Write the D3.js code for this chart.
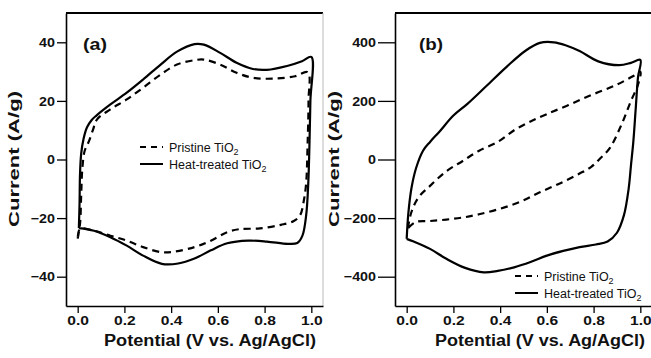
<!DOCTYPE html>
<html><head><meta charset="utf-8">
<script src="https://cdn.jsdelivr.net/npm/d3@7"></script>
<style>
html,body{margin:0;padding:0;background:#fff;}
svg{display:block;}
text{font-family:"Liberation Sans",Arial,sans-serif;fill:#111;}
</style></head>
<body><svg id="c" width="651" height="358"></svg>
<script>
// ---- data ----
const xTicks = [0, 0.2, 0.4, 0.6, 0.8, 1.0];
const yTicksA = [-40, -20, 0, 20, 40];
const yTicksB = [-400, -200, 0, 200, 400];
const seriesNames = ["Pristine TiO", "Heat-treated TiO"];
const panelLabels = ["(a)", "(b)"];
const xTitle = "Potential (V vs. Ag/AgCl)";
const yTitle = "Current (A/g)";

// panel (a) pristine (dashed) — [potential V, current A/g]
const aPristine = [[0.0,-27],[0.01,-22],[0.015,-12],[0.02,-3],[0.03,3],[0.047,6],[0.065,10],[0.083,13.7],[0.14,17.1],[0.21,20.5],[0.28,24.5],[0.355,29],[0.425,32.4],[0.5,33.9],[0.54,34.1],[0.61,32.4],[0.68,29.6],[0.75,27.9],[0.84,27.6],[0.93,28.4],[0.985,29.8],[0.988,20],[0.984,5],[0.978,-8],[0.968,-14],[0.952,-19],[0.925,-21],[0.87,-22.3],[0.78,-23.5],[0.69,-23.8],[0.64,-24.8],[0.57,-27.7],[0.5,-29.9],[0.4,-31.6],[0.355,-31.6],[0.28,-29.9],[0.21,-27.7],[0.14,-26],[0.07,-24.3],[0.01,-23.7],[0.0,-27]];
// panel (a) heat-treated (solid)
const aHeat = [[0.005,-23.4],[0.008,-15],[0.01,-5],[0.015,2],[0.025,7],[0.04,11],[0.06,13.5],[0.08,15],[0.14,18.8],[0.21,22.8],[0.28,27.3],[0.355,32.4],[0.425,36.8],[0.5,39.4],[0.54,39.2],[0.61,36.4],[0.68,33],[0.75,30.9],[0.81,30.6],[0.9,32],[0.96,33.5],[1.0,35],[0.996,20],[0.992,5],[0.987,-8],[0.978,-19],[0.962,-26],[0.94,-28.5],[0.9,-28.8],[0.81,-28],[0.73,-27.7],[0.64,-28.6],[0.57,-31],[0.5,-33.8],[0.43,-35.5],[0.36,-35.6],[0.28,-32.8],[0.21,-29.4],[0.14,-26.5],[0.07,-24.3],[0.005,-23.4]];
// panel (b) pristine (dashed)
const bPristine = [[0.005,-235],[0.02,-180],[0.05,-130],[0.1,-90],[0.17,-40],[0.24,-5],[0.31,30],[0.39,60],[0.46,100],[0.53,130],[0.6,155],[0.69,185],[0.79,220],[0.89,252],[0.97,285],[1.0,300],[0.99,255],[0.96,200],[0.92,120],[0.87,40],[0.83,5],[0.79,-25],[0.74,-48],[0.66,-80],[0.57,-112],[0.49,-143],[0.4,-168],[0.31,-187],[0.24,-198],[0.17,-205],[0.1,-210],[0.04,-213],[0.005,-235]];
// panel (b) heat-treated (solid)
const bHeat = [[0.0,-271],[0.007,-185],[0.02,-100],[0.04,-30],[0.07,30],[0.1,60],[0.14,95],[0.2,150],[0.26,190],[0.34,250],[0.43,318],[0.51,372],[0.57,398],[0.63,400],[0.68,390],[0.74,370],[0.82,335],[0.91,322],[0.96,330],[1.0,340],[0.99,280],[0.98,170],[0.97,60],[0.96,-20],[0.95,-100],[0.93,-190],[0.9,-250],[0.86,-280],[0.81,-290],[0.74,-299],[0.67,-312],[0.6,-328],[0.53,-350],[0.46,-368],[0.39,-380],[0.33,-385],[0.25,-370],[0.17,-339],[0.1,-305],[0.03,-280],[0.0,-271]];

const svg = d3.select("#c");

function stretch(sel, k){
  sel.each(function(){
    const w = this.getComputedTextLength();
    d3.select(this).attr("textLength", w*k).attr("lengthAdjust","spacingAndGlyphs");
  });
}

function panel(opt){
  const g = svg.append("g");
  const x = d3.scaleLinear().domain([-0.05,1.05]).range([opt.x0, opt.x1]);
  const y = d3.scaleLinear().domain(opt.yDom).range([306, 13]);
  // frame
  g.append("line").attr("x1",opt.x0).attr("x2",opt.x1).attr("y1",13).attr("y2",13).attr("stroke","#000").attr("stroke-width",2.2);
  g.append("line").attr("x1",opt.x1).attr("x2",opt.x1).attr("y1",13).attr("y2",306).attr("stroke","#bbb").attr("stroke-width",1);
  // axes
  const ya = g.append("g").attr("transform",`translate(${opt.x0},0)`)
    .call(d3.axisLeft(y).tickValues(opt.yTicks).tickSize(opt.ytick).tickSizeOuter(0).tickPadding(2).tickFormat(d3.format("d")));
  const xa = g.append("g").attr("transform",`translate(0,306)`)
    .call(d3.axisBottom(x).tickValues(xTicks).tickSize(7).tickSizeOuter(0).tickPadding(3).tickFormat(d3.format(".1f")));
  [[ya,1.1],[xa,1.2]].forEach(([a,k])=>{
    a.select(".domain").attr("stroke","#000").attr("stroke-width",1.6);
    a.selectAll(".tick line").attr("stroke","#000").attr("stroke-width",1.3);
    a.selectAll(".tick text").attr("font-size",13).attr("font-weight","bold").attr("fill","#111")
      .attr("font-family",'"Liberation Sans",Arial,sans-serif');
    stretch(a.selectAll(".tick text"), k);
  });
  // titles
  g.append("text").attr("x",opt.xtc).attr("y",346).attr("text-anchor","middle")
    .attr("font-size",16).attr("font-weight","bold")
    .attr("textLength",opt.xtl).attr("lengthAdjust","spacingAndGlyphs").text(xTitle);
  g.append("text").attr("transform",`translate(${opt.yt},159) rotate(-90)`).attr("text-anchor","middle")
    .attr("font-size",15).attr("font-weight","bold")
    .attr("textLength",136).attr("lengthAdjust","spacingAndGlyphs").text(yTitle);
  g.append("text").attr("x",opt.lx).attr("y",50).attr("font-size",17).attr("font-weight","bold")
    .attr("textLength",24).attr("lengthAdjust","spacingAndGlyphs").text(opt.label);
  // curves
  const line = d3.line().x(d=>x(d[0])).y(d=>y(d[1])).curve(d3.curveCatmullRom.alpha(0.5));
  g.append("path").datum(opt.pristine).attr("d",line).attr("fill","none").attr("stroke","#000")
    .attr("stroke-width",2.2).attr("stroke-dasharray","7,5");
  g.append("path").datum(opt.heat).attr("d",line).attr("fill","none").attr("stroke","#000")
    .attr("stroke-width",2.2);
  // legend
  const L = g.append("g");
  seriesNames.forEach((nm,i)=>{
    const yy = opt.legY + i*17;
    L.append("line").attr("x1",opt.legX).attr("x2",opt.legX+23).attr("y1",yy).attr("y2",yy)
      .attr("stroke","#000").attr("stroke-width",2).attr("stroke-dasharray", i===0 ? "6,5" : null);
    const t = L.append("text").attr("x",opt.legX+29).attr("y",yy+4.5).attr("font-size",12.5);
    t.append("tspan").text(nm);
    t.append("tspan").attr("dy",3).attr("font-size",9).text("2");
  });
}

panel({x0:66, x1:323, yDom:[-50,50], yTicks:yTicksA, ytick:9, yt:19, label:panelLabels[0], lx:83,
       xtc:210, xtl:212, pristine:aPristine, heat:aHeat, legX:140, legY:147});
panel({x0:395, x1:652, yDom:[-500,500], yTicks:yTicksB, ytick:17, yt:339, label:panelLabels[1], lx:419,
       xtc:540, xtl:210, pristine:bPristine, heat:bHeat, legX:515, legY:276});
</script></body></html>
